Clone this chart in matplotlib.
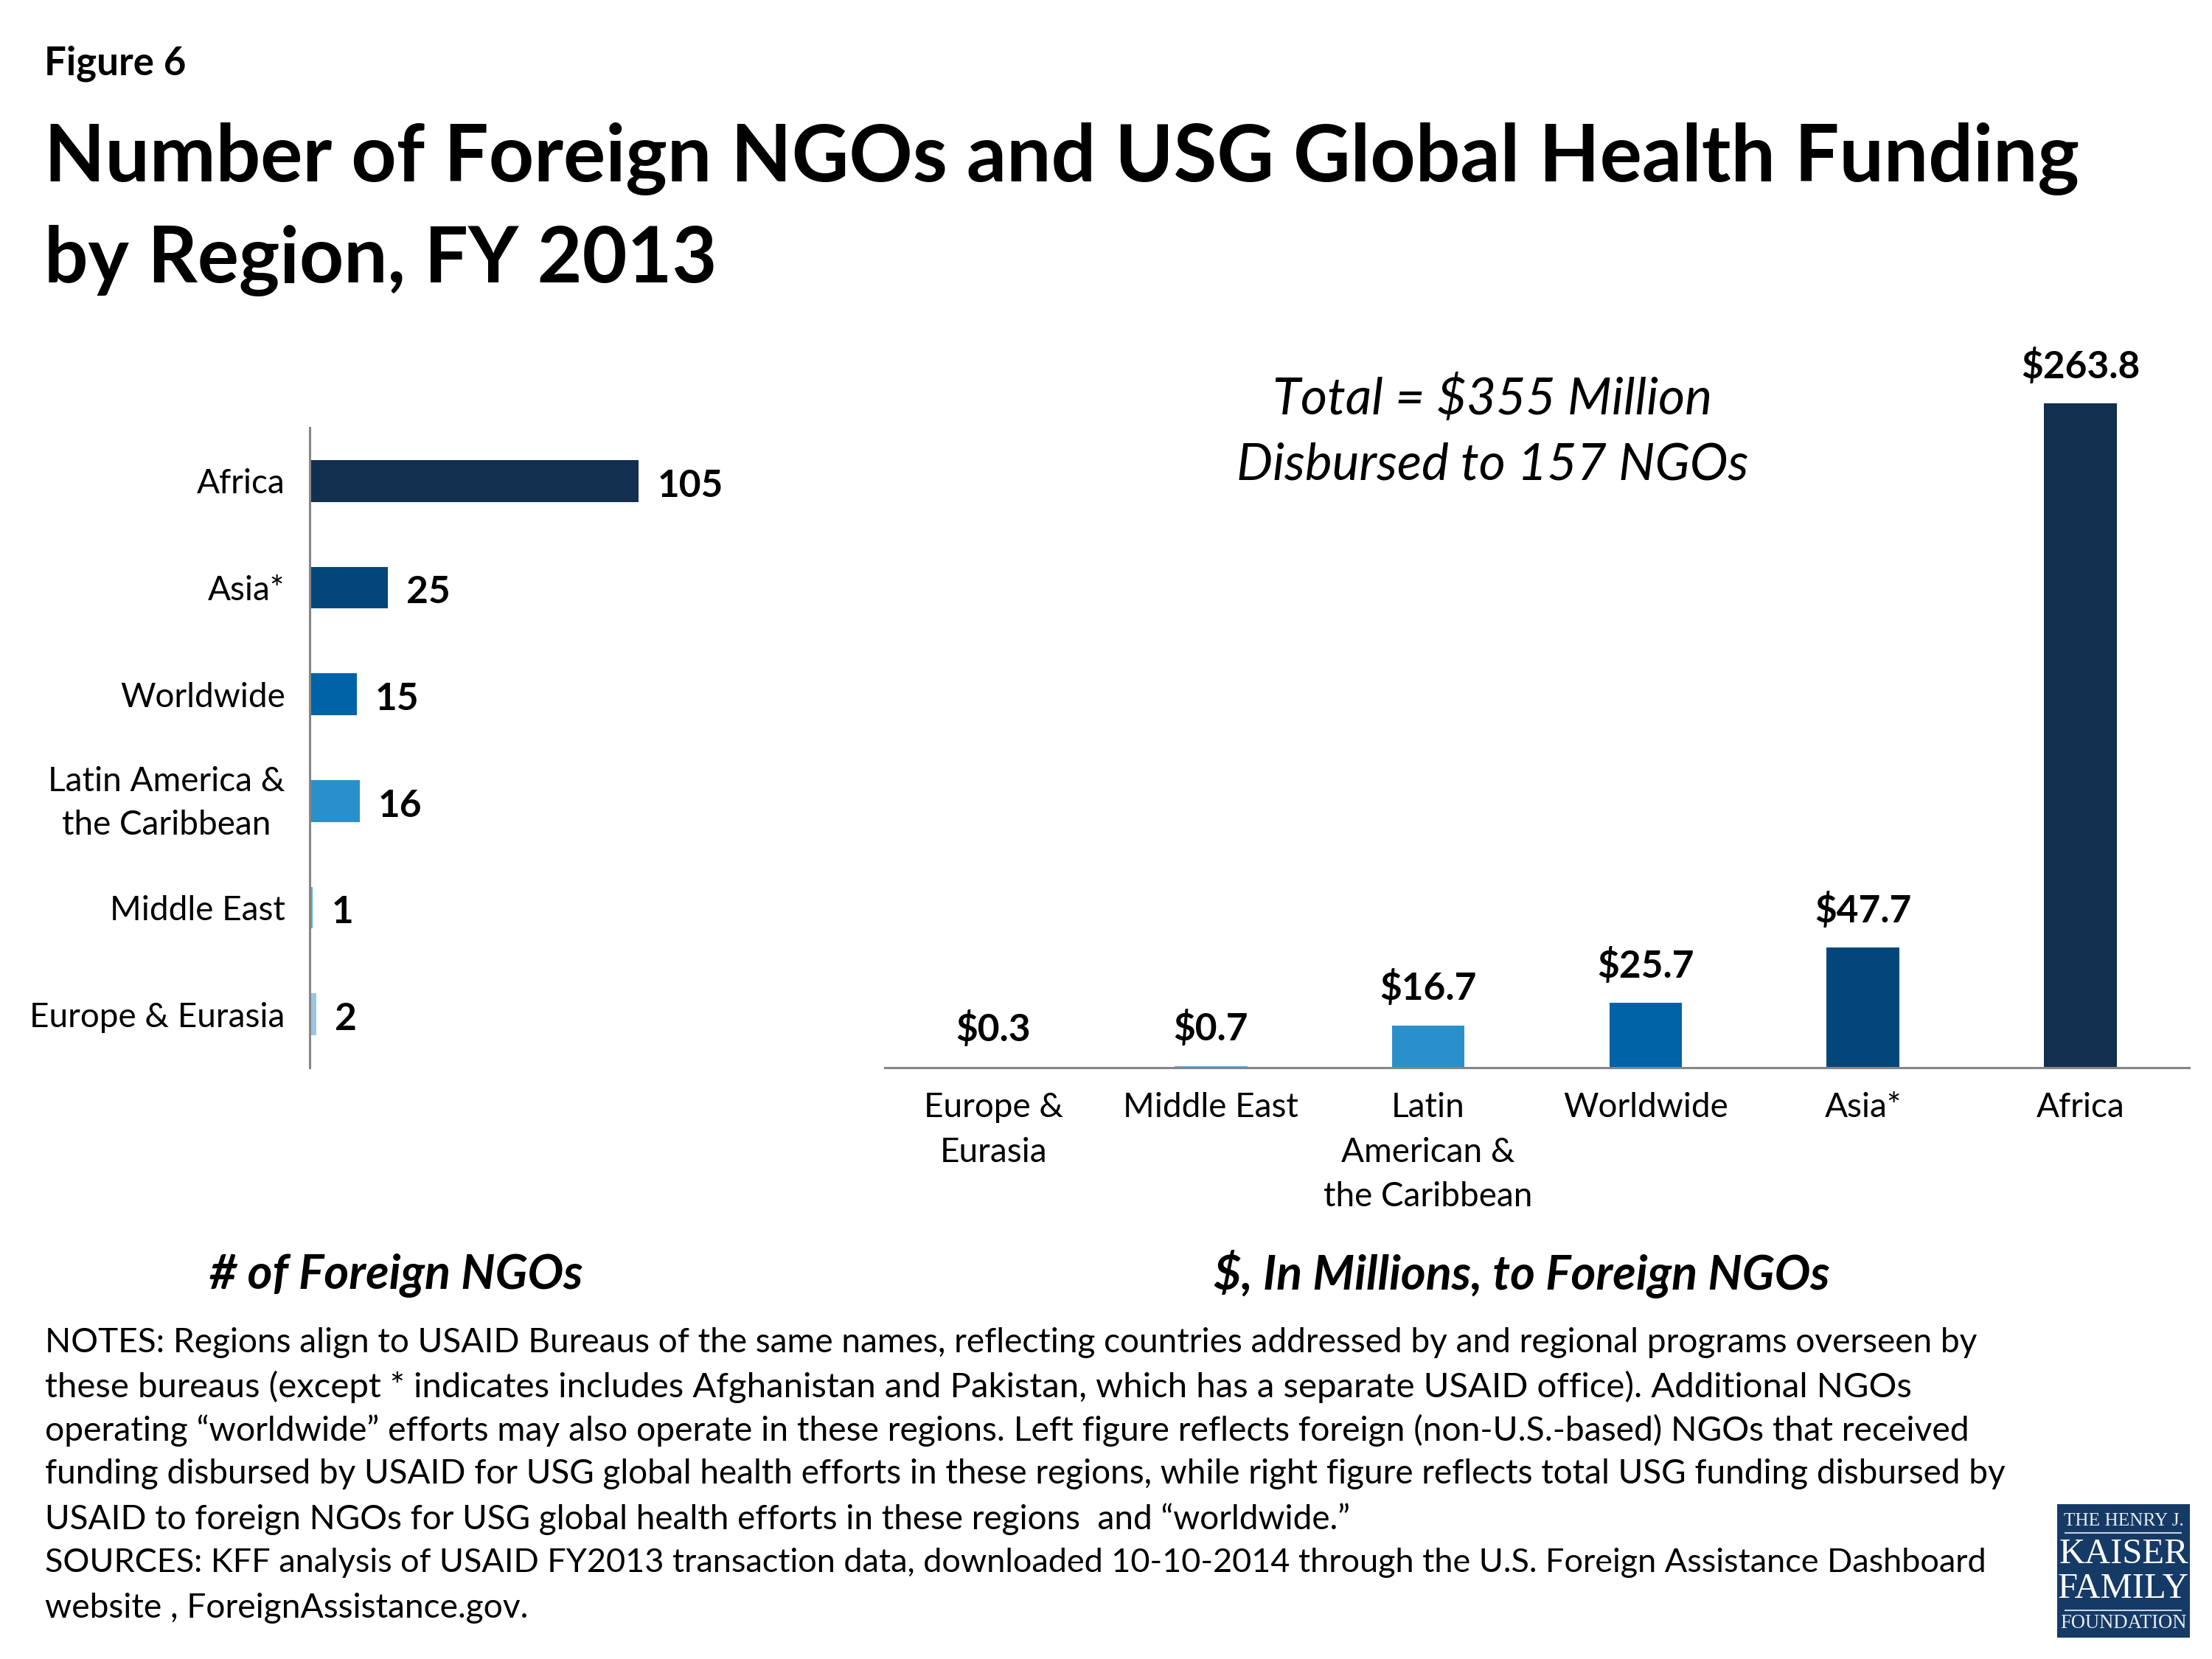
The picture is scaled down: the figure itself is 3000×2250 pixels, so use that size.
"""Figure 6: foreign NGOs and USG global health funding by region, FY 2013."""
import matplotlib
matplotlib.use("Agg")
import matplotlib.pyplot as plt
from matplotlib.patches import Rectangle
from matplotlib.transforms import ScaledTranslation

plt.rcParams["font.family"] = ["Lato", "DejaVu Sans"]

W, H = 3000, 2250

# left chart, top to bottom
ngo_regions = ["Africa", "Asia*", "Worldwide", "Latin America &\nthe Caribbean",
               "Middle East", "Europe & Eurasia"]
ngo_counts = [105, 25, 15, 16, 1, 2]
ngo_colors = ["#122F4F", "#03477A", "#0063A8", "#2A90CB", "#5BACD9", "#9AC5DE"]

# right chart, left to right
fund_regions = ["Europe &\nEurasia", "Middle East", "Latin\nAmerican &\nthe Caribbean",
                "Worldwide", "Asia*", "Africa"]
fund_values = [0.3, 0.7, 16.7, 25.7, 47.7, 263.8]
fund_colors = ["#9AC5DE", "#5BACD9", "#2A90CB", "#0063A8", "#03477A", "#122F4F"]

title_lines = ["Number of Foreign NGOs and USG Global Health Funding",
               "by Region, FY 2013"]
notes = [
    "NOTES: Regions align to USAID Bureaus of the same names, reflecting countries addressed by and regional programs overseen by",
    "these bureaus (except * indicates includes Afghanistan and Pakistan, which has a separate USAID office). Additional NGOs",
    "operating \u201cworldwide\u201d efforts may also operate in these regions. Left figure reflects foreign (non-U.S.-based) NGOs that received",
    "funding disbursed by USAID for USG global health efforts in these regions, while right figure reflects total USG funding disbursed by",
    "USAID to foreign NGOs for USG global health efforts in these regions  and \u201cworldwide.\u201d",
    "SOURCES: KFF analysis of USAID FY2013 transaction data, downloaded 10-10-2014 through the U.S. Foreign Assistance Dashboard",
    "website , ForeignAssistance.gov.",
]
notes_y = [1821, 1881, 1940, 1999, 2060, 2120, 2181]
# Lato runs a little differently from the original font, so each line gets its own size
notes_size = [16.56, 17.0, 16.67, 16.5, 16.5, 16.2, 16.6]


def px_text(fig, x, y, s, **kw):
    """Place text using image pixel coordinates (origin top left)."""
    kw.setdefault("va", "center")
    return fig.text(x / W, 1 - y / H, s, parse_math=False, **kw)


def px_axes(fig, left, top, right, bottom):
    return fig.add_axes([left / W, 1 - bottom / H, (right - left) / W, (bottom - top) / H])


fig = plt.figure(figsize=(15, 11.25), dpi=200, facecolor="white")

px_text(fig, 60, 86, "Figure 6", fontsize=19, fontweight="bold")
px_text(fig, 60, 215, title_lines[0], fontsize=38.5, fontweight="bold")
px_text(fig, 60, 354, title_lines[1], fontsize=37.8, fontweight="bold")

# ---------- left chart ----------
ax = px_axes(fig, 420, 580, 1020, 1448)
ax.barh(range(len(ngo_counts)), ngo_counts, height=0.39, color=ngo_colors)
ax.set_ylim(len(ngo_counts) - 0.5, -0.5)
ax.set_xlim(0, 600 / 4.25)
ax.set_xticks([])
ax.set_yticks(range(len(ngo_regions)))
ax.set_yticklabels(ngo_regions, fontsize=16.5, multialignment="center", linespacing=1.5)
ax.tick_params(axis="y", length=0, pad=12)
# two line label sits a bit higher than its bar in the original
lab = ax.get_yticklabels()[3]
lab.set_transform(lab.get_transform() + ScaledTranslation(0, 0.048, fig.dpi_scale_trans))
for name in ["top", "right", "bottom"]:
    ax.spines[name].set_visible(False)
ax.spines["left"].set_color("#868686")
ax.spines["left"].set_linewidth(1.1)
for i, v in enumerate(ngo_counts):
    ax.annotate(str(v), (v, i), xytext=(9, -2.5), textcoords="offset points",
                va="center", ha="left", fontsize=18.5, fontweight="bold")

# ---------- right chart ----------
ax2 = px_axes(fig, 1200, 500, 2969, 1448)
ax2.bar(range(len(fund_values)), fund_values, width=0.335, color=fund_colors)
ax2.set_xlim(-0.5, len(fund_values) - 0.5)
ax2.set_ylim(0, 948 / 3.415)
ax2.set_yticks([])
ax2.set_xticks(range(len(fund_regions)))
ax2.set_xticklabels(fund_regions, fontsize=16.5, linespacing=1.54)
ax2.tick_params(axis="x", length=0, pad=12)
for name in ["top", "right", "left"]:
    ax2.spines[name].set_visible(False)
ax2.spines["bottom"].set_color("#868686")
ax2.spines["bottom"].set_linewidth(1.1)
for i, v in enumerate(fund_values):
    ax2.annotate(f"${v:.1f}", (i, v), xytext=(0, 18.2), textcoords="offset points",
                 va="center", ha="center", fontsize=18.5, fontweight="bold", parse_math=False)

px_text(fig, 2024, 541, "Total = $355 Million", fontsize=25, fontstyle="italic", ha="center")
px_text(fig, 2024, 631, "Disbursed to 157 NGOs", fontsize=25, fontstyle="italic", ha="center")

px_text(fig, 537, 1730, "# of Foreign NGOs", fontsize=23.3, fontweight="bold",
        fontstyle="italic", ha="center")
px_text(fig, 2064, 1728, "$, In Millions, to Foreign NGOs", fontsize=23.3, fontweight="bold",
        fontstyle="italic", ha="center")

for line, y, size in zip(notes, notes_y, notes_size):
    px_text(fig, 61, y, line, fontsize=size)

# ---------- logo ----------
fig.add_artist(Rectangle((2790 / W, 1 - 2221 / H), 180 / W, 181 / H,
                         transform=fig.transFigure, facecolor="#153A66", edgecolor="none"))
for y in [2079, 2184]:
    fig.add_artist(Rectangle((2800 / W, 1 - (y + 1) / H), 159 / W, 2 / H,
                             transform=fig.transFigure, facecolor="#C8D2DF", edgecolor="none"))
serif = "Liberation Serif"
px_text(fig, 2880, 2063, "THE HENRY J.", fontsize=9.1, color="#E8ECF2", family=serif, ha="center")
px_text(fig, 2880, 2108, "KAISER", fontsize=17.5, color="white", family=serif, ha="center")
px_text(fig, 2880, 2155, "FAMILY", fontsize=17.5, color="white", family=serif, ha="center")
px_text(fig, 2880, 2202, "FOUNDATION", fontsize=9.6, color="#E8ECF2", family=serif, ha="center")

fig.savefig("out.png", dpi=200)
